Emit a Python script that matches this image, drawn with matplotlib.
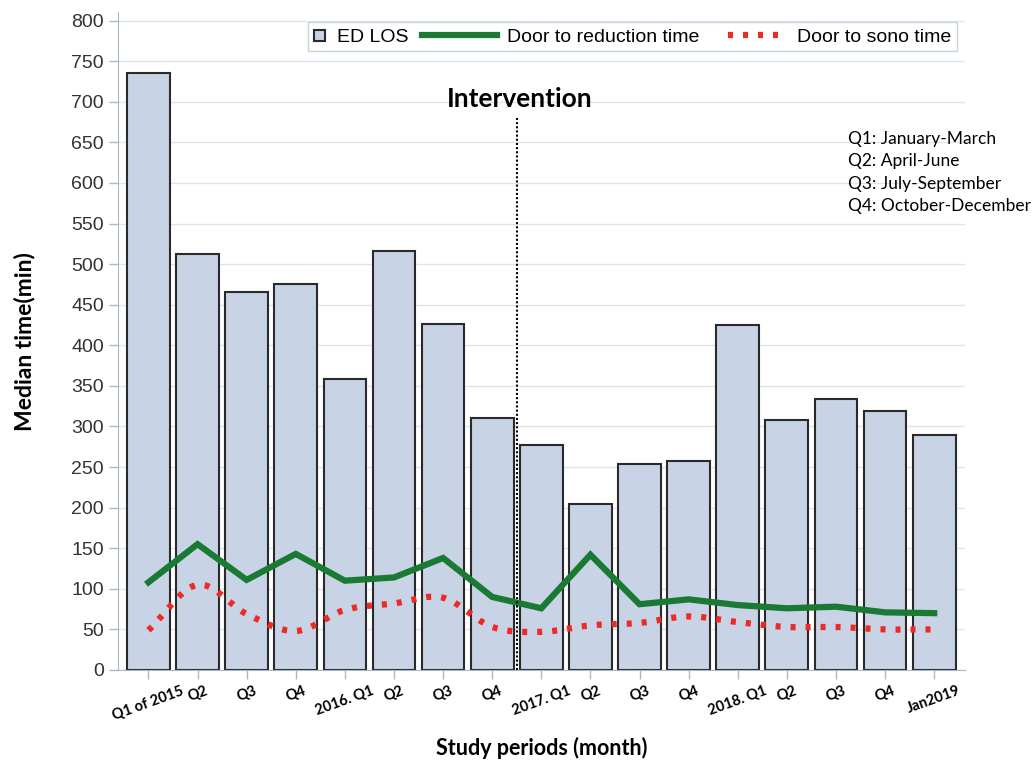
import numpy as np
import matplotlib.pyplot as plt
from matplotlib.lines import Line2D
from matplotlib.patches import Rectangle

# Data
periods = ["Q1 of 2015", "Q2", "Q3", "Q4", "2016. Q1", "Q2", "Q3", "Q4",
           "2017. Q1", "Q2", "Q3", "Q4", "2018. Q1", "Q2", "Q3", "Q4", "Jan2019"]
ed_los = [735, 512, 466, 475, 358, 516, 426, 310, 277, 205, 254, 258, 425, 308, 334, 319, 290]
door_reduction = [108, 155, 111, 143, 110, 114, 138, 90, 76, 142, 81, 87, 80, 76, 78, 71, 70]
door_sono = [49, 105, 69, 48, 74, 82, 89, 53, 47, 55, 58, 66, 59, 53, 53, 50, 50]
quarter_notes = ["Q1: January-March", "Q2: April-June", "Q3: July-September", "Q4: October-December"]


def smooth(xs, ys, n=20):
    # Catmull-Rom curve through the points, for the smoothed dotted line
    xs = np.asarray(xs, float)
    ys = np.asarray(ys, float)
    px = np.concatenate([[2 * xs[0] - xs[1]], xs, [2 * xs[-1] - xs[-2]]])
    py = np.concatenate([[2 * ys[0] - ys[1]], ys, [2 * ys[-1] - ys[-2]]])
    out_x, out_y = [], []
    t = np.linspace(0, 1, n, endpoint=False)
    for i in range(1, len(px) - 2):
        for p, o in ((px, out_x), (py, out_y)):
            p0, p1, p2, p3 = p[i - 1], p[i], p[i + 1], p[i + 2]
            o.extend(0.5 * (2 * p1 + (-p0 + p2) * t + (2 * p0 - 5 * p1 + 4 * p2 - p3) * t ** 2
                            + (-p0 + 3 * p1 - 3 * p2 + p3) * t ** 3))
    out_x.append(xs[-1])
    out_y.append(ys[-1])
    return out_x, out_y


class WideLine:
    # legend handler: line that reaches back into the column gap
    def __init__(self, extra):
        self.extra = extra

    def legend_artist(self, legend, orig_handle, fontsize, handlebox):
        x0, y0 = handlebox.xdescent, handlebox.ydescent
        w, h = handlebox.width, handlebox.height
        line = Line2D([-x0 - self.extra, -x0 + w], [-y0 + h / 2] * 2)
        line.update_from(orig_handle)
        line.set_transform(handlebox.get_transform())
        handlebox.add_artist(line)
        return line


class SmallBox:
    def legend_artist(self, legend, orig_handle, fontsize, handlebox):
        x0, y0 = handlebox.xdescent, handlebox.ydescent
        h = handlebox.height
        s = 8
        box = Rectangle((-x0, -y0 + h / 2 - s / 2 - 0.5), s, s, facecolor='#c8d3e6',
                        edgecolor='#2a2a2a', linewidth=1.5, transform=handlebox.get_transform())
        handlebox.add_artist(box)
        return box


fig = plt.figure(figsize=(10.35, 7.61), dpi=100)
ax = fig.add_axes([0.114, 0.1196, 0.818, 0.864])

x = np.arange(len(periods))
bar_color = '#c8d3e6'
green = '#1a7a34'
red = '#ee2a24'
dots = (0, (0.8, 1.6))
ax.bar(x, ed_los, width=0.87, color=bar_color, edgecolor='#2a2a2a', linewidth=1.5, zorder=2)
ax.plot(x, door_reduction, color=green, linewidth=4.5, solid_joinstyle='miter', zorder=4)
sx, sy = smooth(x, door_sono)
ax.plot(sx, sy, color=red, linewidth=4.5, linestyle=dots, zorder=4)

# intervention marker
ax.plot([7.5, 7.5], [0, 680], color='black', linewidth=1.5, linestyle=(0, (1, 1)), zorder=5)
ax.text(7.55, 703, "Intervention", fontsize=19, fontweight='bold', ha='center', va='center',
        family='Lato')

ax.set_xlim(-0.62, 16.62)
ax.set_ylim(0, 810)
ax.set_yticks(np.arange(0, 801, 50))
ax.yaxis.grid(True, color='#dde6ee', linewidth=1, zorder=0)
ax.set_axisbelow(True)
ax.set_xticks(x)
ax.set_xticklabels(periods, rotation=20, ha='center', fontsize=10.5, fontweight='bold',
                   family='Lato')
for lab in ax.get_yticklabels():
    lab.set_fontsize(14)
    lab.set_color('#333333')
    lab.set_family('Liberation Sans')
ax.tick_params(axis='both', color='#a8b8c8', length=6.5, width=1)
for side in ['top', 'right']:
    ax.spines[side].set_visible(False)
ax.spines['left'].set_color('#a8b8c8')
ax.spines['bottom'].set_color('#a8b8c8')

ax.set_ylabel("Median time(min)", fontsize=16.5, fontweight='bold', family='Lato', labelpad=26)
ax.set_xlabel("Study periods (month)", fontsize=15.5, fontweight='bold', family='Lato', labelpad=10)

ax.text(0.862, 0.82, "\n".join(quarter_notes), transform=ax.transAxes, fontsize=12.5,
        family='Lato', va='top', ha='left', linespacing=1.5, clip_on=False)

h_box = Rectangle((0, 0), 1, 1)
h_green = Line2D([], [], color=green, linewidth=4.5)
h_red = Line2D([], [], color=red, linewidth=4.5, linestyle=dots)
leg = ax.legend([h_box, h_green, h_red], ["ED LOS", "Door to reduction time", "Door to sono time"],
                loc='upper right', bbox_to_anchor=(1.003, 1.0), ncol=3,
                frameon=True, fancybox=False, handlelength=0.7,
                columnspacing=3.85, handletextpad=0.5, borderpad=0.3,
                prop={'family': 'Liberation Sans', 'size': 14},
                handler_map={h_box: SmallBox(), h_green: WideLine(44), h_red: WideLine(33)})
leg.get_frame().set_edgecolor('#c8d2dc')
leg.get_frame().set_linewidth(1)
leg.get_frame().set_alpha(1)

fig.savefig("out.png", dpi=100)
